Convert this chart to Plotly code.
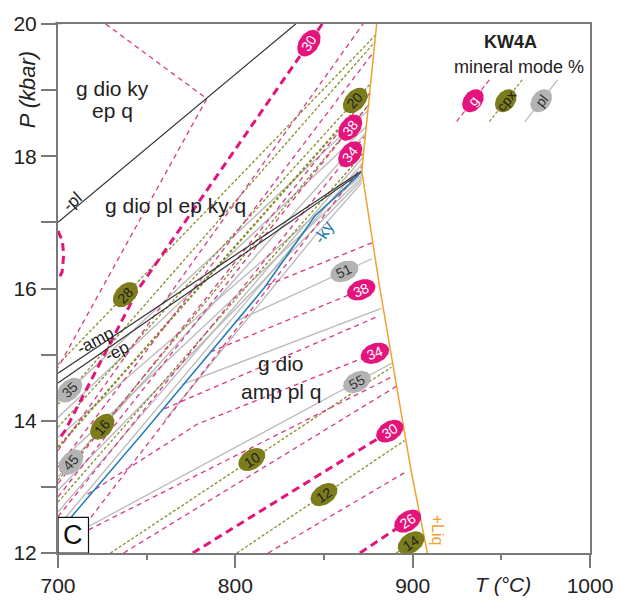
import numpy as np
import plotly.graph_objects as go

# ---------------- data (T in degC, P in kbar) ----------------
T_RANGE = [700, 1000]
P_RANGE = [12, 20]
x_ticks = [700, 800, 900, 1000]
y_ticks = [12, 14, 16, 18, 20]

# reaction / phase-boundary lines
pl_out_T = [700, 834]
pl_out_P = [17.0, 20.0]
amp_out_T = [700, 871.3]
amp_out_P = [14.72, 17.78]
ep_out_T = [700, 871.3]
ep_out_P = [14.57, 17.76]
ky_out_T = [700, 708.3, 749, 803, 816, 845, 869, 871.3]
ky_out_P = [12.3, 12.57, 13.85, 15.58, 16.0, 17.1, 17.7, 17.78]
liq_T = [879.7, 875, 871.3, 881.5, 899, 908.3]
liq_P = [20.0, 18.79, 17.78, 16.0, 13.26, 12.0]

# garnet isopleths (thin dashed)
g_T = [
    [726.9, 783.9, 700],
    [700, 872],
    [700, 878.1],
    [700, 875.7],
    [700, 874.2],
    [700, 872.9],
    [703, 871.6],
    [818, 877],
    [786, 880],
    [760, 880.5],
    [716.7, 778.7, 885.2],
    [717.2, 889.5],
    [737, 892],
    [818.5, 897],
]
g_P = [
    [20.0, 18.87, 14.8],
    [13.55, 20.0],
    [13.3, 19.58],
    [13.05, 18.95],
    [12.85, 18.75],
    [12.55, 18.3],
    [12.0, 17.85],
    [16.05, 16.69],
    [15.04, 16.08],
    [14.18, 15.58],
    [12.89, 13.95, 15.09],
    [12.35, 14.68],
    [12.0, 14.54],
    [12.0, 13.24],
]
# garnet isopleths (thick dashed)
gt_T = [
    [849, 745, 704, 700],
    [700, 702.5, 703.2, 702.3, 700],
    [776, 893.6],
    [870.3, 903.8],
]
gt_P = [
    [20.0, 15.98, 13.85, 13.7],
    [16.87, 16.72, 16.5, 16.25, 16.12],
    [12.0, 13.95],
    [12.0, 12.6],
]
# cpx isopleths (dotted)
c_T = [
    [700, 879],
    [700, 878.7],
    [700, 876.3],
    [700, 876.0],
    [700, 872.3],
    [729.6, 888],
    [800.9, 895.4],
    [890.8, 906],
]
c_P = [
    [14.85, 19.83],
    [14.25, 19.73],
    [13.9, 19.1],
    [13.1, 18.8],
    [12.77, 18.05],
    [12.0, 14.81],
    [12.0, 13.70],
    [12.0, 12.28],
]
# heavier cpx isopleth
ch_T = [700, 876.0]
ch_P = [13.6, 18.95]
# plagioclase isopleths (solid grey)
p_T = [
    [700, 874.7],
    [700, 873.5],
    [700, 872.5],
    [700, 871.8],
    [760, 845, 871.3],
    [800, 877],
    [770, 882.4],
    [717.2, 888.2],
    [700, 874],
    [700, 871.5],
    [700, 871.4],
    [700, 871.3],
]
p_P = [
    [14.3, 18.69],
    [13.15, 18.35],
    [12.62, 18.0],
    [12.4, 17.9],
    [14.0, 16.8, 17.6],
    [15.5, 16.45],
    [14.55, 15.70],
    [12.4, 14.87],
    [14.05, 18.45],
    [13.75, 17.72],
    [13.35, 17.68],
    [12.95, 17.64],
]

# isopleth labels: (text, family, line index, T where the label sits)
g_labels = [("30", "gt", 0, 841.5), ("38", "g", 4, 864.8), ("34", "g", 5, 864.8),
            ("38", "g", 8, 871.0), ("34", "g", 10, 878.7), ("30", "gt", 2, 887.1),
            ("26", "gt", 3, 897.2)]
c_labels = [("28", 0, 738), ("20", 2, 867.6), ("16", 3, 725), ("10", 5, 809.3),
            ("12", 6, 850), ("14", 7, 899.1)]
p_labels = [("35", 0, 706.5), ("45", 1, 707.4), ("51", 5, 861.5), ("55", 7, 868.6)]

# ---------------- styling ----------------
W, H = 625, 609
ML, MR, MT, MB = 58, 27, 22, 47
PW, PH = W - ML - MR, H - MT - MB
SX = PW / (T_RANGE[1] - T_RANGE[0])   # px per degC
SY = PH / (P_RANGE[1] - P_RANGE[0])   # px per kbar
FONT = "Liberation Sans, Arial, sans-serif"

PINK = "#D8388A"
PINK_T = "#E3157B"
OLIVE = "#8C8C2C"
GREY = "#B9B9B9"
BLUE = "#1F7DB5"
ORANGE = "#F0A12E"
DARK = "#333333"
F_PINK, F_OLIVE, F_GREY = "#E5147C", "#7C7C1C", "#B3B3B3"

fig = go.Figure()


def add_line(T, P, color, width, dash="solid"):
    fig.add_trace(go.Scatter(x=T, y=P, mode="lines",
                             line=dict(color=color, width=width, dash=dash),
                             hoverinfo="skip", showlegend=False))


for T, P in zip(p_T, p_P):
    add_line(T, P, GREY, 1.3)
for T, P in zip(c_T, c_P):
    add_line(T, P, OLIVE, 1.3, "3px,2px")
add_line(ch_T, ch_P, OLIVE, 2.2, "3px,2px")
for T, P in zip(g_T, g_P):
    add_line(T, P, PINK, 1.3, "5px,4px")
for T, P in zip(gt_T, gt_P):
    add_line(T, P, PINK_T, 3, "8px,5px")

add_line(pl_out_T, pl_out_P, DARK, 1.2)
add_line(amp_out_T, amp_out_P, DARK, 1.2)
add_line(ep_out_T, ep_out_P, DARK, 1.2)
add_line(ky_out_T, ky_out_P, BLUE, 1.5)
add_line(liq_T, liq_P, ORANGE, 1.5)


def point_on(T, P, t):
    T = np.asarray(T, float); P = np.asarray(P, float)
    order = np.argsort(T)
    Ts, Ps = T[order], P[order]
    p = float(np.interp(t, Ts, Ps))
    i = int(np.clip(np.searchsorted(Ts, t), 1, len(Ts) - 1))
    ang = np.degrees(np.arctan2((Ps[i] - Ps[i - 1]) * SY, (Ts[i] - Ts[i - 1]) * SX))
    return p, ang


def ellipse(t0, p0, ang, a, b, fill):
    th = np.radians(ang)
    s = np.linspace(0, 2 * np.pi, 60)
    xp = a * np.cos(s) * np.cos(th) - b * np.sin(s) * np.sin(th)
    yp = a * np.cos(s) * np.sin(th) + b * np.sin(s) * np.cos(th)
    fig.add_trace(go.Scatter(x=t0 + xp / SX, y=p0 + yp / SY, mode="lines",
                             fill="toself", fillcolor=fill, line=dict(width=0, color=fill),
                             hoverinfo="skip", showlegend=False))


def add_label(text, T, P, t, fill, tcolor):
    p, ang = point_on(T, P, t)
    ellipse(t, p, ang, 15, 10, fill)
    fig.add_annotation(x=t, y=p, text=text, showarrow=False, textangle=-ang,
                       font=dict(family=FONT, size=14, color=tcolor))


fam = {"g": (g_T, g_P), "gt": (gt_T, gt_P)}
for text, f, i, t in g_labels:
    add_label(text, fam[f][0][i], fam[f][1][i], t, F_PINK, "white")
for text, i, t in c_labels:
    add_label(text, c_T[i], c_P[i], t, F_OLIVE, "#222222")
for text, i, t in p_labels:
    add_label(text, p_T[i], p_P[i], t, F_GREY, "#333333")

# legend glyphs (top right)
leg_items = [("g", PINK, "5px,3px", F_PINK, "white", 934.0),
             ("cpx", OLIVE, "3px,2px", F_OLIVE, "#222222", 952.5),
             ("pl", GREY, "solid", F_GREY, "#333333", 972.5)]
leg_P = 18.84
leg_ang = 52
for txt, lc, ld, fc, tc, t0 in leg_items:
    th = np.radians(leg_ang)
    L = 27
    add_line([t0 - L * np.cos(th) / SX, t0 + L * np.cos(th) / SX],
             [leg_P - L * np.sin(th) / SY, leg_P + L * np.sin(th) / SY], lc, 1.2, ld)
    ellipse(t0, leg_P, leg_ang, 13, 9.5, fc)
    fig.add_annotation(x=t0, y=leg_P, text=txt, showarrow=False, textangle=-leg_ang,
                       font=dict(family=FONT, size=14, color=tc))

fig.add_annotation(x=955, y=19.73, text="<b>KW4A</b>", showarrow=False,
                   font=dict(family=FONT, size=18, color="#222"))
fig.add_annotation(x=960, y=19.35, text="mineral mode %", showarrow=False,
                   font=dict(family=FONT, size=18, color="#222"))

# field labels
for txt, t, p in [("g dio ky", 730.5, 19.03), ("ep q", 730.5, 18.69),
                  ("g dio pl ep ky q", 766, 17.25),
                  ("g dio", 826, 14.87), ("amp pl q", 826, 14.44)]:
    fig.add_annotation(x=t, y=p, text=txt, showarrow=False,
                       font=dict(family=FONT, size=21, color="#222"))

# reaction labels
fig.add_annotation(x=708.3, y=17.31, text="-pl", showarrow=False, textangle=-42,
                   font=dict(family=FONT, size=17, color="#222"))
fig.add_annotation(x=721.3, y=15.21, text="-amp", showarrow=False, textangle=-28,
                   font=dict(family=FONT, size=17, color="#222"))
fig.add_annotation(x=733.3, y=15.04, text="-ep", showarrow=False, textangle=-28,
                   font=dict(family=FONT, size=17, color="#222"))
fig.add_annotation(x=850, y=16.84, text="-ky", showarrow=False, textangle=-58,
                   font=dict(family=FONT, size=17, color=BLUE))
fig.add_annotation(x=913.8, y=12.35, text="+Liq", showarrow=False, textangle=90,
                   font=dict(family=FONT, size=16, color=ORANGE))

# panel letter box
fig.add_shape(type="rect", x0=700, x1=717.2, y0=12, y1=12.54,
              line=dict(color="#111", width=1.2), fillcolor="white", layer="above")
fig.add_annotation(x=708.6, y=12.27, text="C", showarrow=False,
                   font=dict(family=FONT, size=27, color="#111"))

# axis titles
fig.add_annotation(xref="paper", yref="paper", x=-0.058, y=0.875, text="<i>P (kbar)</i>",
                   showarrow=False, textangle=-90, xanchor="center", yanchor="middle",
                   font=dict(family=FONT, size=22, color="#222"))
fig.add_annotation(x=951, y=12, yshift=-31, text="<i>T (°C)</i>", showarrow=False,
                   font=dict(family=FONT, size=21, color="#222"))
fig.add_annotation(xref="paper", yref="paper", x=-0.012, y=1.015, text="⇦",
                   showarrow=False, font=dict(family=FONT, size=9, color="#777"))

axis_common = dict(showline=True, linecolor="#7A7A7A", linewidth=2, mirror=True,
                   showgrid=False, zeroline=False, ticks="outside", tickcolor="#7A7A7A",
                   tickwidth=2, tickfont=dict(family=FONT, size=21, color="#222"))
fig.update_xaxes(range=T_RANGE, tickvals=x_ticks, ticklen=13,
                 minor=dict(dtick=50, ticklen=5, ticks="outside", tickcolor="#7A7A7A",
                            tickwidth=2), **axis_common)
fig.update_yaxes(range=P_RANGE, tickvals=y_ticks, ticklen=15,
                 minor=dict(dtick=1, ticklen=15, ticks="outside", tickcolor="#7A7A7A",
                            tickwidth=2), **axis_common)

fig.update_layout(width=W, height=H, margin=dict(l=ML, r=MR, t=MT, b=MB),
                  plot_bgcolor="white", paper_bgcolor="white", showlegend=False)

fig.write_html("out.html")
